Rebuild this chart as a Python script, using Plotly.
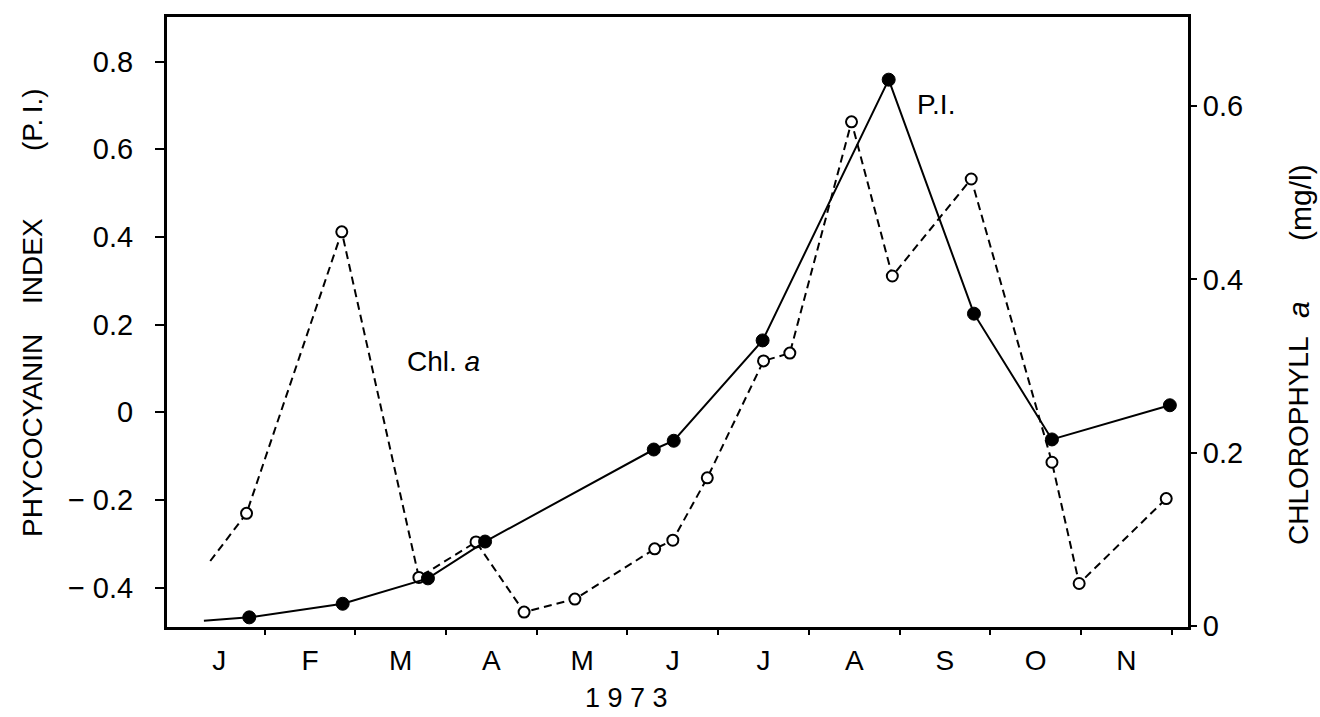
import plotly.graph_objects as go

# Month positions are expressed as fractional months from 1 January 1973
month_labels = ["J", "F", "M", "A", "M", "J", "J", "A", "S", "O", "N"]
month_centers = [i + 0.5 for i in range(len(month_labels))]
month_bounds = list(range(1, 12))

# Phycocyanin index (P.I.), filled circles, solid line (first point = line start)
pi_month = [0.33, 0.83, 1.86, 2.80, 3.43, 5.29, 5.51, 6.49, 7.88, 8.82, 9.68, 10.98]
pi_vals = [-0.476, -0.468, -0.437, -0.379, -0.295, -0.085, -0.065, 0.164, 0.759, 0.225, -0.062, 0.016]

# Chlorophyll a (mg/l), open circles, dashed line (first point = line start)
chl_month = [0.40, 0.80, 1.85, 2.70, 3.33, 3.86, 4.42, 5.30, 5.50, 5.88, 6.50, 6.79,
             7.47, 7.92, 8.79, 9.68, 9.98, 10.94]
chl_vals = [0.075, 0.130, 0.455, 0.056, 0.097, 0.016, 0.031, 0.089, 0.099, 0.171, 0.306, 0.315,
            0.582, 0.404, 0.516, 0.189, 0.049, 0.147]

pi_ticks = [-0.4, -0.2, 0, 0.2, 0.4, 0.6, 0.8]
pi_ticktext = ["\u2212 0.4", "\u2212 0.2", "0", "0.2", "0.4", "0.6", "0.8"]
chl_ticks = [0, 0.2, 0.4, 0.6]
chl_ticktext = ["0", "0.2", "0.4", "0.6"]

W, H = 1320, 717
L, R, T, B = 167, 132, 17, 90
PW, PH = W - L - R, H - T - B

FONT = "Liberation Sans, Arial, sans-serif"


def px(x):
    return (x - L) / PW


def py(y):
    return (H - B - y) / PH


fig = go.Figure()

# Chlorophyll a on the primary (right-hand) axis
fig.add_trace(go.Scatter(
    x=chl_month, y=chl_vals, yaxis="y", mode="lines+markers", opacity=1,
    line=dict(color="#000000", width=2, dash="8px,5px"),
    marker=dict(symbol="circle", color="#ffffff", opacity=1,
                size=[0] + [11] * (len(chl_vals) - 1),
                line=dict(color="#000000", width=2)),
    showlegend=False, hoverinfo="skip",
))

# Phycocyanin index on the overlaying (left-hand) axis, drawn on top
fig.add_trace(go.Scatter(
    x=pi_month, y=pi_vals, yaxis="y2", mode="lines+markers", opacity=1,
    line=dict(color="#000000", width=2),
    marker=dict(symbol="circle", color="#000000", opacity=1,
                size=[0] + [13] * (len(pi_vals) - 1),
                line=dict(color="#000000", width=1)),
    showlegend=False, hoverinfo="skip",
))

axis_line = dict(showline=True, linecolor="black", linewidth=3,
                 showgrid=False, zeroline=False)

fig.update_layout(
    width=W, height=H,
    margin=dict(l=L, r=R, t=T, b=B),
    paper_bgcolor="white", plot_bgcolor="white",
    font=dict(family=FONT, color="black", size=28),
    xaxis=dict(
        range=[-0.077, 11.18], mirror=True, **axis_line,
        tickmode="array", tickvals=month_centers, ticktext=month_labels,
        ticks="", ticklabelstandoff=6,
        tickfont=dict(size=28),
        minor=dict(tickmode="array", tickvals=month_bounds, ticks="outside",
                   ticklen=5, tickwidth=2, tickcolor="black", showgrid=False),
    ),
    yaxis=dict(
        range=[-0.0012, 0.703], side="right", **axis_line,
        tickmode="array", tickvals=chl_ticks, ticktext=chl_ticktext,
        ticks="outside", ticklen=6, tickwidth=2, tickcolor="black",
        tickfont=dict(size=29),
    ),
    yaxis2=dict(
        range=[-0.490, 0.902], side="left", overlaying="y", **axis_line,
        tickmode="array", tickvals=pi_ticks, ticktext=pi_ticktext,
        ticks="outside", ticklen=9, tickwidth=2, tickcolor="black",
        ticklabelstandoff=16,
        tickfont=dict(size=29),
    ),
)

annots = [
    # left axis title, one word per piece
    dict(text="PHYCOCYANIN", x=px(32), y=py(436), textangle=-90),
    dict(text="INDEX", x=px(32), y=py(261), textangle=-90),
    dict(text="(P.\u2009I.)", x=px(32), y=py(120), textangle=-90),
    # right axis title
    dict(text="CHLOROPHYLL", x=px(1298), y=py(441), textangle=-90),
    dict(text="<i>a</i>", x=px(1298), y=py(310), textangle=-90, size=30),
    dict(text="(mg/l)", x=px(1300), y=py(203), textangle=-90, size=30),
    # series labels and year
    dict(text="Chl. <i>a</i>", x=px(443), y=py(361)),
    dict(text="P.I.", x=px(936), y=py(105)),
    dict(text="1 9 7 3", x=px(626), y=py(698), size=27),
]
for a in annots:
    size = a.pop("size", 28)
    fig.add_annotation(xref="paper", yref="paper", showarrow=False,
                       xanchor="center", yanchor="middle",
                       font=dict(family=FONT, size=size, color="black"), **a)

fig.write_html("out.html")
